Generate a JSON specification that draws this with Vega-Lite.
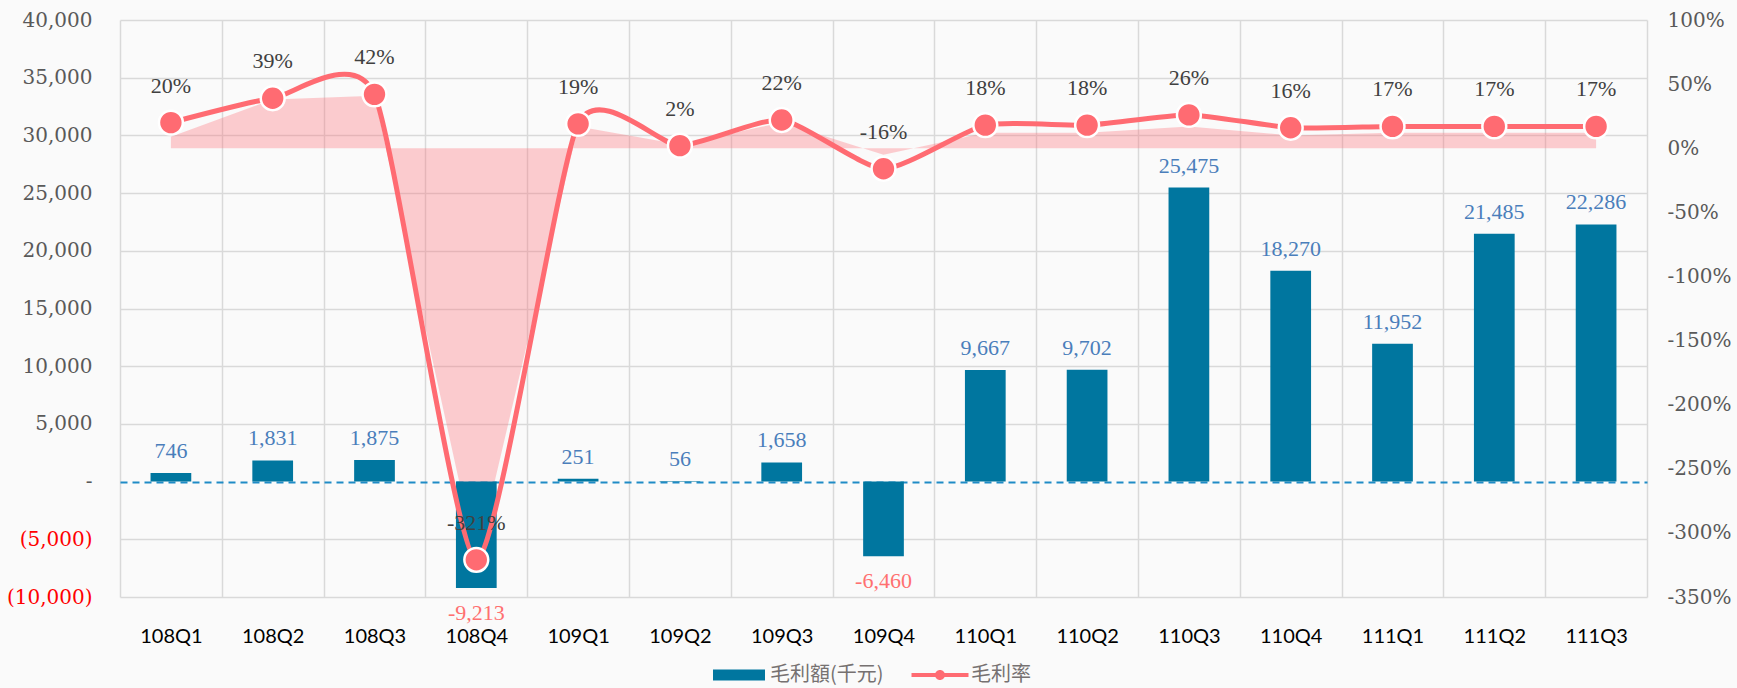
{
  "$schema": "https://vega.github.io/schema/vega-lite/v6.json",
  "width": 1527,
  "height": 577,
  "autosize": {"type": "none"},
  "padding": {"left": 120, "top": 20, "right": 90, "bottom": 91},
  "background": "#FAFAFA",
  "config": {
    "view": {"stroke": null},
    "locale": {"number": {"decimal": ".", "thousands": ",", "grouping": [3], "currency": ["$", ""], "minus": "-"}}
  },
  "data": {
    "values": [
      {"q": "108Q1", "gp": 746, "margin": 0.20, "shade": 0.09},
      {"q": "108Q2", "gp": 1831, "margin": 0.39, "shade": 0.38},
      {"q": "108Q3", "gp": 1875, "margin": 0.42, "shade": 0.41},
      {"q": "108Q4", "gp": -9213, "margin": -3.21, "shade": -3.21},
      {"q": "109Q1", "gp": 251, "margin": 0.19, "shade": 0.17},
      {"q": "109Q2", "gp": 56, "margin": 0.02, "shade": 0.03},
      {"q": "109Q3", "gp": 1658, "margin": 0.22, "shade": 0.20},
      {"q": "109Q4", "gp": -6460, "margin": -0.16, "shade": -0.05},
      {"q": "110Q1", "gp": 9667, "margin": 0.18, "shade": 0.12},
      {"q": "110Q2", "gp": 9702, "margin": 0.18, "shade": 0.12},
      {"q": "110Q3", "gp": 25475, "margin": 0.26, "shade": 0.17},
      {"q": "110Q4", "gp": 18270, "margin": 0.16, "shade": 0.10},
      {"q": "111Q1", "gp": 11952, "margin": 0.17, "shade": 0.12},
      {"q": "111Q2", "gp": 21485, "margin": 0.17, "shade": 0.12},
      {"q": "111Q3", "gp": 22286, "margin": 0.17, "shade": 0.12}
    ]
  },
  "encoding": {
    "x": {
      "field": "q", "type": "nominal", "sort": null,
      "scale": {"paddingInner": 0, "paddingOuter": 0},
      "axis": {
        "title": null, "tickBand": "extent", "grid": true, "gridColor": "#D9D9D9", "gridWidth": 1.5,
        "ticks": false, "domain": false, "labelAngle": 0, "labelFont": "Lato", "labelFontSize": 20,
        "labelColor": "#000000", "labelPadding": 29
      }
    }
  },
  "layer": [
    {
      "mark": {"type": "area", "interpolate": "linear", "fill": "#FF6B72", "fillOpacity": 0.32},
      "encoding": {
        "y": {"field": "shade", "type": "quantitative", "scale": {"domain": [-3.5, 1], "nice": false, "zero": false}, "axis": null},
        "y2": {"datum": 0}
      }
    },
    {
      "mark": {"type": "bar", "width": {"band": 0.4}},
      "encoding": {
        "y": {
          "field": "gp", "type": "quantitative",
          "scale": {"domain": [-10000, 40000], "nice": false, "zero": false},
          "axis": {
            "orient": "left", "title": null,
            "values": [-10000, -5000, 0, 5000, 10000, 15000, 20000, 25000, 30000, 35000, 40000],
            "labelExpr": "datum.value === 0 ? '-\u00a0\u00a0\u00a0\u00a0\u00a0' : datum.value < 0 ? '(' + format(-datum.value, ',') + ')' : format(datum.value, ',')",
            "labelColor": {"condition": {"test": "datum.value < 0", "value": "#FF0000"}, "value": "#595959"},
            "labelFont": "DejaVu Serif", "labelFontSize": 20, "labelPadding": 28,
            "ticks": false, "domain": false, "grid": true,
            "gridColor": {"condition": {"test": "datum.value === 0", "value": "#1F8BC6"}, "value": "#D9D9D9"},
            "gridDash": {"condition": {"test": "datum.value === 0", "value": [7, 5]}, "value": []},
            "gridWidth": {"condition": {"test": "datum.value === 0", "value": 2}, "value": 1.5}
          }
        },
        "color": {
          "datum": "毛利額(千元)",
          "scale": {"domain": ["毛利額(千元)", "毛利率"], "range": ["#00769F", "#FF6B72"]},
          "legend": {
            "title": null, "orient": "none", "legendX": 609, "legendY": 645, "direction": "horizontal",
            "symbolSize": 400, "labelFont": "Noto Sans CJK TC", "labelFontSize": 20, "labelColor": "#767171",
            "labelOffset": 21, "columnPadding": 27,
            "encode": {
              "symbols": {
                "update": {
                  "shape": {"signal": "datum.value === '毛利率' ? 'M-2.85,-0.2H2.85V0.2H-2.85Z M0.5,0A0.5,0.5,0,1,1,-0.5,0A0.5,0.5,0,1,1,0.5,0Z' : 'M-2.6,-0.55H2.6V0.55H-2.6Z'"},
                  "fill": {"signal": "datum.value === '毛利率' ? '#FF6B72' : '#00769F'"},
                  "strokeWidth": {"value": 0},
                  "opacity": {"value": 1},
                  "fillOpacity": {"value": 1}
                }
              }
            }
          }
        }
      }
    },
    {
      "transform": [{"filter": "datum.gp >= 0"}],
      "mark": {"type": "text", "dy": -22, "font": "Liberation Serif", "fontSize": 22, "color": "#4A7EBB"},
      "encoding": {
        "y": {"field": "gp", "type": "quantitative", "scale": {"domain": [-10000, 40000], "nice": false, "zero": false}, "axis": null},
        "text": {"field": "gp", "type": "quantitative", "format": ","}
      }
    },
    {
      "transform": [{"filter": "datum.gp < 0"}],
      "mark": {"type": "text", "dy": 25, "font": "Liberation Serif", "fontSize": 22, "color": "#FF7070"},
      "encoding": {
        "y": {"field": "gp", "type": "quantitative", "scale": {"domain": [-10000, 40000], "nice": false, "zero": false}, "axis": null},
        "text": {"field": "gp", "type": "quantitative", "format": ","}
      }
    },
    {
      "mark": {"type": "line", "interpolate": "cardinal", "tension": 0.4, "strokeWidth": 5},
      "encoding": {
        "y": {
          "field": "margin", "type": "quantitative",
          "scale": {"domain": [-3.5, 1], "nice": false, "zero": false},
          "axis": {
            "orient": "right", "title": null,
            "values": [-3.5, -3, -2.5, -2, -1.5, -1, -0.5, 0, 0.5, 1],
            "format": ".0%", "labelFont": "DejaVu Serif", "labelFontSize": 20, "labelColor": "#595959",
            "labelPadding": 20, "ticks": false, "domain": false, "grid": false
          }
        },
        "color": {"datum": "毛利率"}
      }
    },
    {
      "mark": {"type": "point", "filled": true, "size": 570, "stroke": "white", "strokeWidth": 2.5, "opacity": 1},
      "encoding": {
        "y": {"field": "margin", "type": "quantitative", "scale": {"domain": [-3.5, 1], "nice": false, "zero": false}, "axis": null},
        "color": {"datum": "毛利率"}
      }
    },
    {
      "mark": {"type": "text", "dy": -37, "font": "Liberation Serif", "fontSize": 22, "color": "#404040"},
      "encoding": {
        "y": {"field": "margin", "type": "quantitative", "scale": {"domain": [-3.5, 1], "nice": false, "zero": false}, "axis": null},
        "text": {"field": "margin", "type": "quantitative", "format": ".0%"}
      }
    }
  ],
  "resolve": {"scale": {"y": "independent"}}
}
